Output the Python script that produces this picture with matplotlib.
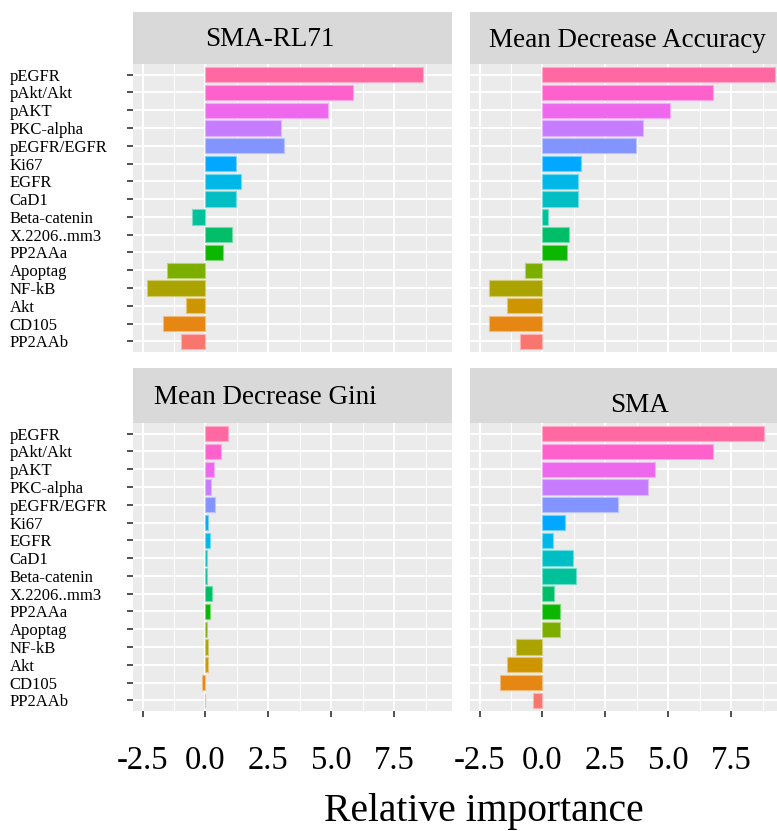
"""Relative importance of markers, four facets"""

import matplotlib.pyplot as plt
import numpy as np

# categories, top to bottom
markers = ["pEGFR", "pAkt/Akt", "pAKT", "PKC-alpha", "pEGFR/EGFR", "Ki67", "EGFR",
           "CaD1", "Beta-catenin", "X.2206..mm3", "PP2AAa", "Apoptag", "NF-kB",
           "Akt", "CD105", "PP2AAb"]

sma_rl71 = [8.64, 5.86, 4.89, 3.02, 3.11, 1.23, 1.40, 1.23, -0.53, 1.06, 0.70,
            -1.52, -2.31, -0.79, -1.68, -0.96]
mean_dec_acc = [9.26, 6.77, 5.06, 3.99, 3.73, 1.52, 1.41, 1.43, 0.24, 1.06, 0.98,
                -0.70, -2.14, -1.42, -2.14, -0.89]
mean_dec_gini = [0.90, 0.62, 0.33, 0.24, 0.36, 0.09, 0.17, 0.07, 0.07, 0.26, 0.17,
                 0.07, 0.09, 0.10, -0.13, 0.0]
sma = [8.80, 6.77, 4.46, 4.18, 3.01, 0.88, 0.42, 1.23, 1.34, 0.44, 0.70,
       0.71, -1.06, -1.42, -1.69, -0.36]

# ggplot hue palette, 16 levels (listed top to bottom)
colors = ["#FF68A1", "#FF61CC", "#ED68ED", "#C77CFF", "#8494FF", "#00A9FF", "#00B8E7",
          "#00BFC4", "#00C19A", "#00BE67", "#0CB702", "#7CAE00", "#ABA300",
          "#CD9600", "#E68613", "#F8766D"]

x_ticks = [-2.5, 0.0, 2.5, 5.0, 7.5]
x_minor = [-1.25, 1.25, 3.75, 6.25, 8.75]

W, H = 777, 831
SERIF = "Liberation Serif"

fig = plt.figure(figsize=(W / 100, H / 100), dpi=100)


def px_box(x0, y0, x1, y1):
    return [x0 / W, 1 - y1 / H, (x1 - x0) / W, (y1 - y0) / H]


def lighten(c, f=0.45):
    rgb = np.array(plt.matplotlib.colors.to_rgb(c))
    return tuple(rgb + (1 - rgb) * f)


panels = [
    ("SMA-RL71", sma_rl71, 133, 64, 352, True, False, (0.43, 0.48)),
    ("Mean Decrease Accuracy", mean_dec_acc, 470, 64, 352, False, False, (0.495, 0.46)),
    ("Mean Decrease Gini", mean_dec_gini, 133, 423, 711, True, True, (0.414, 0.47)),
    ("SMA", sma, 470, 423, 711, False, True, (0.533, 0.31)),
]

ypos = np.arange(len(markers))

for title, vals, x0, ytop, ybot, show_y, show_x, tpos in panels:
    x1 = x0 + 319
    ax = fig.add_axes(px_box(x0, ytop, x1, ybot))
    ax.set_facecolor("#EBEBEB")
    for s in ax.spines.values():
        s.set_visible(False)
    for v in x_minor:
        ax.axvline(v, color="white", lw=0.7, zorder=0)
    for v in x_ticks:
        ax.axvline(v, color="white", lw=1.4, zorder=0)
    for y in ypos:
        ax.axhline(y, color="white", lw=1.4, zorder=0)
    ax.barh(ypos, vals, height=0.86, color=colors,
            edgecolor=[lighten(c) for c in colors], linewidth=0.8, zorder=2)
    ax.set_xlim(-2.88, 9.8)
    ax.set_ylim(15.6, -0.6)
    ax.set_xticks(x_ticks)
    ax.set_yticks(ypos)
    if show_y:
        ax.set_yticklabels(markers, ha="left", fontsize=12, family=SERIF)
        ax.tick_params(axis="y", length=4.5, width=1.2, color="#333333", pad=84.5)
    else:
        ax.tick_params(axis="y", length=0, labelleft=False)
    if show_x:
        ax.set_xticklabels([f"{t:.1f}" for t in x_ticks], fontsize=23.5, family=SERIF)
        ax.tick_params(axis="x", length=4, width=1.2, color="#333333", pad=21)
    else:
        ax.tick_params(axis="x", length=0, labelbottom=False)

    # facet strip
    sy0 = 12 if ytop == 64 else 368
    sax = fig.add_axes(px_box(x0, sy0, x1, ytop))
    sax.set_facecolor("#D9D9D9")
    sax.set_xticks([])
    sax.set_yticks([])
    for s in sax.spines.values():
        s.set_visible(False)
    sax.text(tpos[0], tpos[1], title, transform=sax.transAxes, ha="center",
             va="center", fontsize=19.5, family=SERIF)

fig.text(484 / W, 1 - 821 / H, "Relative importance", ha="center", va="baseline",
         fontsize=28.5, family=SERIF)

fig.savefig("out.png", dpi=100)
